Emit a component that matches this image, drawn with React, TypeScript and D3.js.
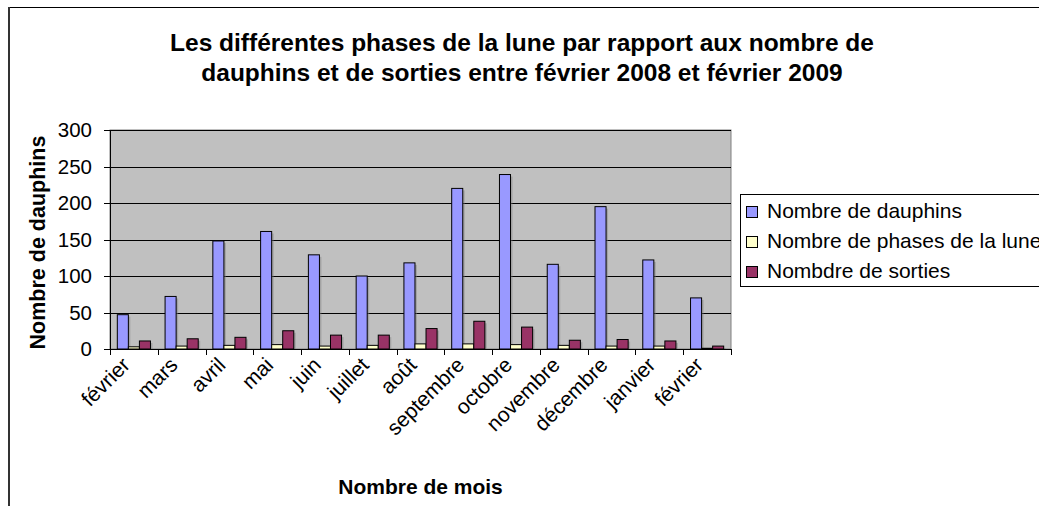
import React from "react";
import * as d3 from "d3";

const months = ["février", "mars", "avril", "mai", "juin", "juillet", "août", "septembre", "octobre", "novembre", "décembre", "janvier", "février"];
const dauphins = [47, 72, 148, 161, 129, 100, 118, 220, 239, 116, 195, 122, 70];
const phases = [3, 4, 5, 6, 4, 5, 7, 7, 6, 5, 4, 4, 1];
const sorties = [11, 14, 16, 25, 19, 19, 28, 38, 30, 12, 13, 11, 4];
const seriesNames = ["Nombre de dauphins", "Nombre de phases de la lune", "Nombdre de sorties"];
const seriesColors = ["#9999FF", "#FFFFCC", "#993366"];
const yTicks = [0, 50, 100, 150, 200, 250, 300];
const titleLines = [
  "Les différentes phases de la lune par rapport aux nombre de",
  "dauphins et de sorties entre février 2008 et février 2009",
];

const W = 1039;
const H = 506;
const FONT = "Arial, 'Liberation Sans', sans-serif";

export default function App() {
  const plot = { left: 110, right: 731, top: 130, bottom: 349 };
  const x = d3.scaleBand<number>().domain(d3.range(months.length)).range([plot.left, plot.right]).padding(0);
  const bw = x.bandwidth();
  const xSub = d3.scaleBand<number>().domain([0, 1, 2]).range([bw * 0.153, bw * 0.847]).padding(0);
  const y = d3.scaleLinear().domain([0, 300]).range([plot.bottom, plot.top]);
  const series = [dauphins, phases, sorties];

  const tickXs = d3.range(months.length + 1).map((i) => plot.left + i * bw);

  return (
    <svg width={W} height={H} style={{ display: "block", position: "absolute", left: 0, top: 0 }} fontFamily={FONT}>
      <rect x={0} y={0} width={W} height={H} fill="#fff" />
      {/* outer chart border */}
      <line x1={8} x2={W} y1={7.5} y2={7.5} stroke="#000" strokeWidth={1} />
      <line x1={9} x2={9} y1={7} y2={H} stroke="#333" strokeWidth={2} />

      {/* title */}
      {titleLines.map((t, i) => (
        <text key={i} x={522} y={51 + i * 30} textAnchor="middle" fontSize={24.5} fontWeight="bold" fill="#000">
          {t}
        </text>
      ))}

      {/* plot area */}
      <rect x={plot.left} y={plot.top} width={plot.right - plot.left} height={plot.bottom - plot.top} fill="#C0C0C0" stroke="#808080" strokeWidth={1} />
      {yTicks.filter((v) => v > 0).map((v) => (
        <line key={v} x1={plot.left} x2={plot.right} y1={Math.round(y(v)) + 0.5} y2={Math.round(y(v)) + 0.5} stroke="#000" strokeWidth={1} />
      ))}

      {/* bars */}
      {series.map((vals, s) =>
        vals.map((v, i) => {
          const bx = (x(i) as number) + (xSub(s) as number);
          const by = y(v);
          const bh = plot.bottom - by;
          return (
            <g key={`${s}-${i}`}>
              <rect x={bx + 2} y={by + 2} width={xSub.bandwidth()} height={Math.max(0, bh - 2)} fill="#808080" opacity={0.45} />
              <rect x={bx} y={by} width={xSub.bandwidth()} height={bh} fill={seriesColors[s]} stroke="#000" strokeWidth={1} />
            </g>
          );
        })
      )}

      {/* y axis */}
      <line x1={plot.left + 0.5} x2={plot.left + 0.5} y1={plot.top} y2={plot.bottom} stroke="#000" strokeWidth={1} />
      {yTicks.map((v) => (
        <g key={v}>
          <line x1={plot.left - 6} x2={plot.left} y1={Math.round(y(v)) + 0.5} y2={Math.round(y(v)) + 0.5} stroke="#000" strokeWidth={1} />
          <text x={92} y={y(v)} dy="0.36em" textAnchor="end" fontSize={20.5} fill="#000">
            {v}
          </text>
        </g>
      ))}

      {/* x axis */}
      <line x1={plot.left} x2={plot.right} y1={plot.bottom + 0.5} y2={plot.bottom + 0.5} stroke="#000" strokeWidth={1} />
      {tickXs.map((tx, i) => (
        <line key={i} x1={Math.round(tx) + 0.5} x2={Math.round(tx) + 0.5} y1={plot.bottom} y2={plot.bottom + 6} stroke="#000" strokeWidth={1} />
      ))}
      {months.map((m, i) => {
        const cx = (x(i) as number) + bw / 2;
        return (
          <text key={i} transform={`translate(${cx - 8},${plot.bottom + 12}) rotate(-45)`} textAnchor="end" dy="0.36em" fontSize={21} fill="#000">
            {m}
          </text>
        );
      })}

      {/* axis titles */}
      <text x={(plot.left + plot.right) / 2} y={494} textAnchor="middle" fontSize={21} fontWeight="bold" fill="#000">
        Nombre de mois
      </text>
      <text transform={`translate(45,${(plot.top + plot.bottom) / 2 + 3}) rotate(-90)`} textAnchor="middle" fontSize={21.5} fontWeight="bold" fill="#000">
        Nombre de dauphins
      </text>

      {/* legend */}
      <rect x={740.5} y={194.5} width={400} height={92} fill="#fff" stroke="#000" strokeWidth={1} />
      {seriesNames.map((n, i) => (
        <g key={i}>
          <rect x={746.5} y={206.5 + i * 30} width={11} height={11} fill={seriesColors[i]} stroke="#000" strokeWidth={1} />
          <text x={767} y={218 + i * 30} fontSize={21} fill="#000">
            {n}
          </text>
        </g>
      ))}
    </svg>
  );
}
